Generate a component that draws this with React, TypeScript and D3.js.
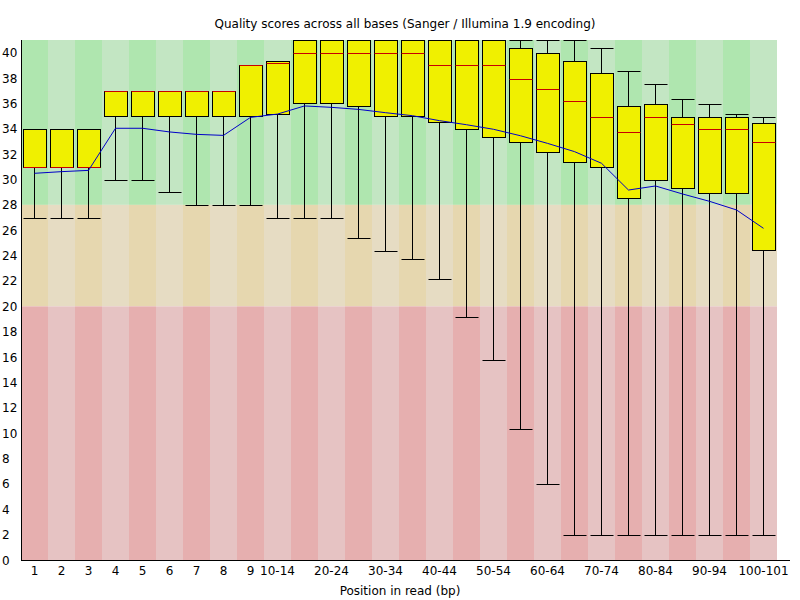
import React from "react";
import * as d3 from "d3";

const categories = ["1","2","3","4","5","6","7","8","9","10-14","15-19","20-24","25-29","30-34","35-39","40-44","45-49","50-54","55-59","60-64","65-69","70-74","75-79","80-84","85-89","90-94","95-99","100-101"];
const upperWhisker = [34,34,34,37,37,37,37,37,39,39.35,41,41,41,41,41,41,41,41,41,41,41,40.34,38.53,37.51,36.32,35.93,35.14,34.9];
const upperQuartile = [34,34,34,37,37,37,37,37,39,39.32,41,41,41,41,41,41,41,41,40.34,39.95,39.32,38.37,35.77,35.93,34.9,34.9,34.9,34.43];
const median = [31,31,31,37,37,37,37,37,39,39.16,40,40,40,40,40,39,39,39,37.9,37.11,36.16,34.9,33.72,34.9,34.35,33.96,33.96,32.93];
const lowerQuartile = [31,31,31,35,35,35,35,35,35,35.14,36,36,35.77,35,35,34.5,33.96,33.33,32.93,32.14,31.36,30.96,28.52,29.94,29.31,28.91,28.91,24.44];
const lowerWhisker = [27,27,27,30,30,29,28,28,28,27,27,27,25.36,24.34,23.71,22.13,19.13,15.74,10.3,6,2,2,2,2,2,2,2,2];
const meanValues = [30.49,30.62,30.72,34.04,34.04,33.75,33.56,33.48,34.9,35.16,35.8,35.69,35.53,35.27,35.03,34.64,34.32,33.96,33.45,32.85,32.2,31.28,29.17,29.49,28.86,28.28,27.6,26.15];
const yTicks = d3.range(0, 41, 2);
const zones = [
  { lo: 28, hi: 41, light: "rgb(195,230,195)", dark: "rgb(175,230,175)" },
  { lo: 20, hi: 28, light: "rgb(230,220,195)", dark: "rgb(230,215,175)" },
  { lo: 0, hi: 20, light: "rgb(230,195,195)", dark: "rgb(230,175,175)" },
];

const W = 800, H = 600;
const left = 21, top = 40, bottom = 560;
const bw = 27;
const right = left + bw * categories.length;
const FONT = "DejaVu Sans";

export default function App() {
  const x = d3.scaleBand<string>().domain(categories).range([left, right]);
  const y = d3.scaleLinear().domain([0, 41]).range([bottom, top]);
  const ry = (v: number) => Math.round(y(v)) + 0.5;
  const cx = (i: number) => (x(categories[i]) as number) + 13 + 0.5;
  const line = d3.line<number>().x((_, i) => cx(i)).y((d) => y(d));

  return (
    <svg width={W} height={H} style={{ position: "absolute", left: 0, top: 0, background: "#fff" }} fontFamily={FONT}>
      {zones.map((z, zi) =>
        categories.map((c, i) => (
          <rect key={`z${zi}-${i}`} x={x(c)} y={y(z.hi)} width={bw} height={y(z.lo) - y(z.hi)}
            fill={i % 2 === 0 ? z.dark : z.light} />
        ))
      )}
      {categories.map((c, i) => {
        const bx = (x(c) as number) + 2.5;
        const ty = ry(upperQuartile[i]);
        const by = ry(lowerQuartile[i]);
        const uw = ry(upperWhisker[i]);
        const lw = ry(lowerWhisker[i]);
        const mx = cx(i);
        return (
          <g key={`b${i}`}>
            <line x1={mx} x2={mx} y1={uw} y2={ty} stroke="#000" />
            <line x1={mx} x2={mx} y1={by} y2={lw} stroke="#000" />
            <line x1={bx} x2={bx + 23} y1={uw} y2={uw} stroke="#000" />
            <line x1={bx} x2={bx + 23} y1={lw} y2={lw} stroke="#000" />
            <rect x={bx} y={ty} width={23} height={by - ty} fill="rgb(240,240,0)" stroke="#000" />
            <line x1={bx} x2={bx + 23} y1={ry(median[i])} y2={ry(median[i])} stroke="rgb(200,0,0)" />
          </g>
        );
      })}
      <path d={line(meanValues) || ""} fill="none" stroke="rgb(0,0,200)" strokeWidth={1} />
      <line x1={left + 0.5} x2={left + 0.5} y1={top} y2={bottom + 0.5} stroke="#000" />
      <line x1={left} x2={790} y1={bottom + 0.5} y2={bottom + 0.5} stroke="#000" />
      {yTicks.map((t) => (
        <text key={`yt${t}`} x={2} y={y(t) + 4.5} fontSize={12} fill="#000">{t}</text>
      ))}
      {categories.map((c, i) =>
        i < 9 || (i - 9) % 2 === 0 ? (
          <text key={`xt${i}`} x={cx(i)} y={575} fontSize={12} textAnchor="middle" fill="#000">{c}</text>
        ) : null
      )}
      <text x={405} y={28} fontSize={12} textAnchor="middle" fill="#000">Quality scores across all bases (Sanger / Illumina 1.9 encoding)</text>
      <text x={400} y={595} fontSize={12} textAnchor="middle" fill="#000">Position in read (bp)</text>
    </svg>
  );
}
